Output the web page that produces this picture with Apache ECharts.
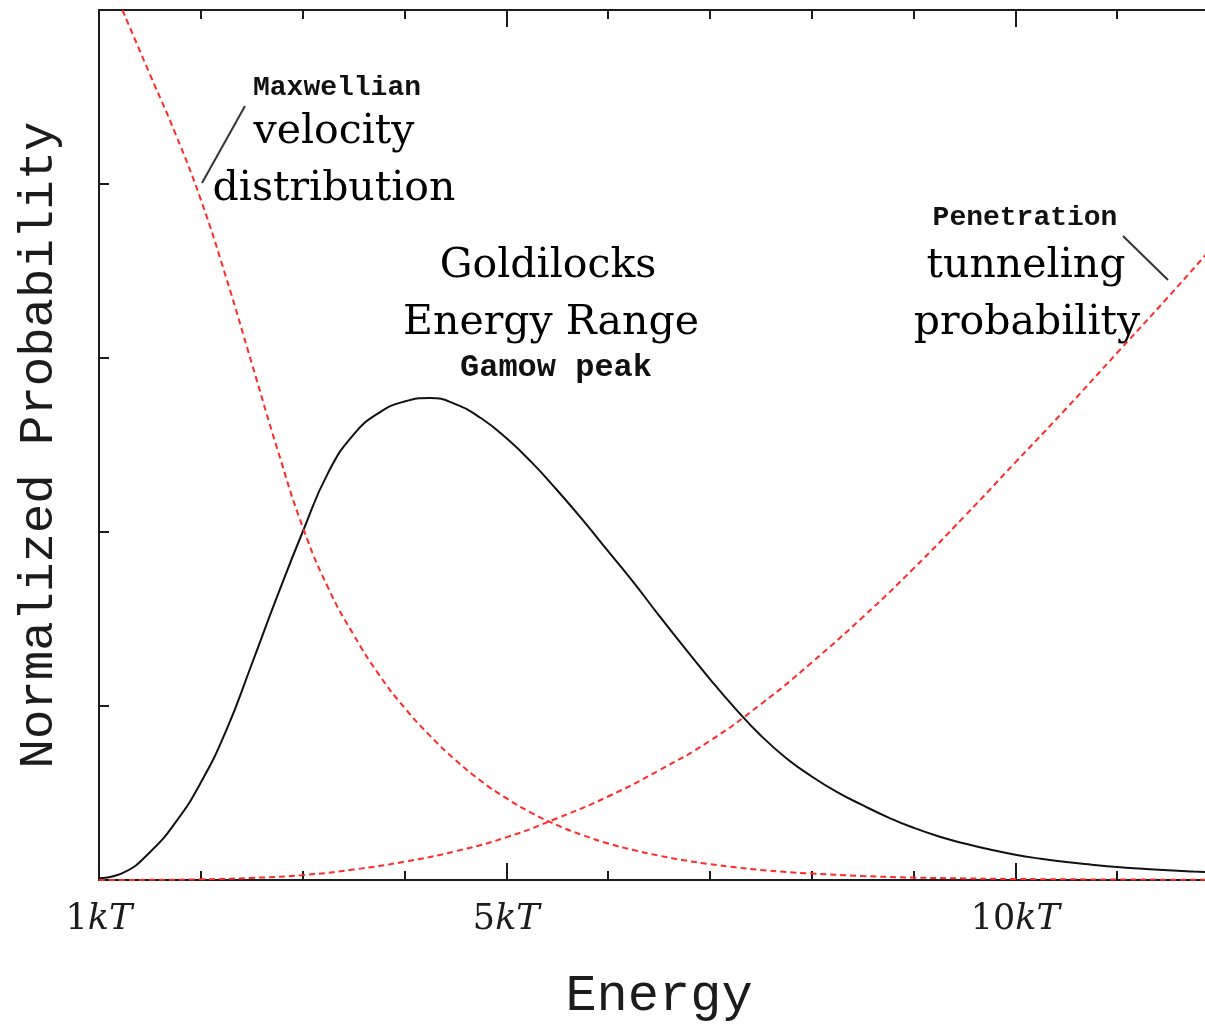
<!DOCTYPE html>
<html>
<head>
<meta charset="utf-8">
<script src="https://cdn.jsdelivr.net/npm/echarts@6/dist/echarts.min.js"></script>
<style>
  html, body { margin: 0; padding: 0; background: #fff; }
  #chart { width: 1205px; height: 1024px; }
</style>
</head>
<body>
<div id="chart"></div>
<script>
// Energy in units of kT, probability in arbitrary normalized units
const maxwellEnergy = [1.23, 1.5, 1.75, 2.0, 2.25, 2.5, 2.75, 3.0, 3.25, 3.5, 3.75, 4.0, 4.25, 4.5, 4.75, 5.0, 5.25, 5.5, 5.75, 6.0, 6.25, 6.5, 6.75, 7.0, 7.25, 7.5, 7.75, 8.0, 8.5, 9.0, 9.5, 10.0, 10.5, 11.0, 11.5, 12.0];
const maxwellValue  = [5.0, 4.63, 4.29, 3.91, 3.46, 2.97, 2.48, 2.03, 1.68, 1.41, 1.18, 0.99, 0.83, 0.69, 0.57, 0.47, 0.385, 0.315, 0.258, 0.21, 0.172, 0.14, 0.113, 0.091, 0.073, 0.058, 0.046, 0.037, 0.023, 0.014, 0.009, 0.006, 0.004, 0.003, 0.002, 0.0015];

const gamowEnergy = [1.0, 1.25, 1.5, 1.75, 2.0, 2.25, 2.5, 2.75, 3.0, 3.25, 3.5, 3.75, 4.0, 4.25, 4.5, 4.75, 5.0, 5.25, 5.5, 5.75, 6.0, 6.25, 6.5, 6.75, 7.0, 7.25, 7.5, 7.75, 8.0, 8.25, 8.5, 8.75, 9.0, 9.25, 9.5, 9.75, 10.0, 10.25, 10.5, 10.75, 11.0, 11.25, 11.5, 11.75, 12.0];
const gamowValue  = [0.01, 0.045, 0.16, 0.33, 0.56, 0.86, 1.24, 1.63, 2.0, 2.34, 2.56, 2.685, 2.75, 2.77, 2.735, 2.655, 2.54, 2.40, 2.24, 2.07, 1.89, 1.71, 1.52, 1.335, 1.155, 0.985, 0.83, 0.70, 0.595, 0.505, 0.43, 0.36, 0.30, 0.25, 0.21, 0.175, 0.145, 0.122, 0.103, 0.088, 0.075, 0.065, 0.056, 0.049, 0.043];

const tunnelEnergy = [1.0, 1.5, 2.0, 2.5, 3.0, 3.5, 4.0, 4.5, 5.0, 5.5, 6.0, 6.5, 7.0, 7.5, 8.0, 8.5, 9.0, 9.5, 10.0, 10.5, 11.0, 11.5, 12.0];
const tunnelValue  = [0.0, 0.001, 0.004, 0.012, 0.028, 0.06, 0.105, 0.165, 0.245, 0.355, 0.48, 0.63, 0.80, 1.01, 1.25, 1.51, 1.79, 2.09, 2.40, 2.71, 3.03, 3.35, 3.68];

const energyTicks = [1, 5, 10];
const majorTicks = [5, 10];

const pairs = (xs, ys) => xs.map((x, i) => [x, ys[i]]);

const axisColor = '#1c1c1c';
const red = '#ff2b2b';
const serif = '"DejaVu Serif", serif';
const mono = '"Liberation Mono", monospace';

const baseX = {
  type: 'value', min: 1, max: 12, interval: 1, gridIndex: 0,
  splitLine: { show: false },
  axisLine: { show: true, onZero: false, lineStyle: { color: axisColor, width: 2 } }
};

const chart = echarts.init(document.getElementById('chart'), null, { renderer: 'canvas' });

chart.setOption({
  backgroundColor: '#fff',
  animation: false,
  grid: { left: 99, top: 10, right: -14, bottom: 144, containLabel: false, outerBoundsMode: 'none' },
  xAxis: [
    Object.assign({}, baseX, {
      position: 'bottom',
      name: 'Energy', nameLocation: 'middle', nameGap: 90,
      nameTextStyle: { fontFamily: mono, fontSize: 52, color: axisColor },
      axisTick: { inside: true, length: 9, lineStyle: { color: axisColor, width: 2 } },
      axisLabel: {
        margin: 22,
        formatter: v => energyTicks.includes(v) ? '{n|' + v + '}{i|kT}' : '',
        rich: {
          n: { fontFamily: serif, fontSize: 35, color: axisColor },
          i: { fontFamily: serif, fontSize: 35, fontStyle: 'italic', color: axisColor }
        }
      }
    }),
    Object.assign({}, baseX, {
      position: 'bottom',
      axisLine: { show: false },
      axisTick: { inside: true, length: 17, customValues: majorTicks, lineStyle: { color: axisColor, width: 2 } },
      axisLabel: { show: false }
    }),
    Object.assign({}, baseX, {
      position: 'top',
      axisTick: { inside: true, length: 9, lineStyle: { color: axisColor, width: 2 } },
      axisLabel: { show: false }
    }),
    Object.assign({}, baseX, {
      position: 'top',
      axisLine: { show: false },
      axisTick: { inside: true, length: 17, customValues: majorTicks, lineStyle: { color: axisColor, width: 2 } },
      axisLabel: { show: false }
    })
  ],
  yAxis: {
    type: 'value', min: 0, max: 5, interval: 1,
    name: 'Normalized Probability', nameLocation: 'middle', nameGap: 35, nameRotate: 90,
    nameTextStyle: { fontFamily: mono, fontSize: 49, color: axisColor },
    splitLine: { show: false },
    axisLine: { show: true, onZero: false, lineStyle: { color: axisColor, width: 2 } },
    axisTick: { inside: true, length: 10, lineStyle: { color: axisColor, width: 2 } },
    axisLabel: { show: false }
  },
  series: [
    {
      name: 'Maxwellian', type: 'line', xAxisIndex: 0, smooth: 0.5, showSymbol: false,
      data: pairs(maxwellEnergy, maxwellValue),
      lineStyle: { color: red, width: 2, type: [6, 4] }, z: 3
    },
    {
      name: 'Penetration', type: 'line', xAxisIndex: 0, smooth: 0.5, showSymbol: false,
      data: pairs(tunnelEnergy, tunnelValue),
      lineStyle: { color: red, width: 2, type: [6, 4] }, z: 3
    },
    {
      name: 'Gamow peak', type: 'line', xAxisIndex: 0, smooth: 0.5, showSymbol: false,
      data: pairs(gamowEnergy, gamowValue),
      lineStyle: { color: '#111', width: 2 }, z: 2
    }
  ],
  graphic: [
    // annotation: Maxwellian velocity distribution
    { type: 'text', x: 253, y: 88, style: { text: 'Maxwellian', font: 'bold 28px ' + mono, fill: '#111', align: 'left', verticalAlign: 'middle' } },
    { type: 'text', x: 334, y: 132, style: { text: 'velocity', font: '41px ' + serif, fill: '#000', align: 'center', verticalAlign: 'middle' } },
    { type: 'text', x: 334, y: 189, style: { text: 'distribution', font: '41px ' + serif, fill: '#000', align: 'center', verticalAlign: 'middle' } },
    { type: 'line', shape: { x1: 245, y1: 106, x2: 202, y2: 183 }, style: { stroke: '#333', lineWidth: 2 } },
    // annotation: Gamow peak
    { type: 'text', x: 548, y: 266, style: { text: 'Goldilocks', font: '41px ' + serif, fill: '#000', align: 'center', verticalAlign: 'middle' } },
    { type: 'text', x: 551, y: 323, style: { text: 'Energy Range', font: '41px ' + serif, fill: '#000', align: 'center', verticalAlign: 'middle' } },
    { type: 'text', x: 556, y: 368, style: { text: 'Gamow peak', font: 'bold 32px ' + mono, fill: '#111', align: 'center', verticalAlign: 'middle' } },
    // annotation: penetration probability
    { type: 'text', x: 1025, y: 218, style: { text: 'Penetration', font: 'bold 28px ' + mono, fill: '#111', align: 'center', verticalAlign: 'middle' } },
    { type: 'text', x: 1026, y: 266, style: { text: 'tunneling', font: '41px ' + serif, fill: '#000', align: 'center', verticalAlign: 'middle' } },
    { type: 'text', x: 1027, y: 323, style: { text: 'probability', font: '41px ' + serif, fill: '#000', align: 'center', verticalAlign: 'middle' } },
    { type: 'line', shape: { x1: 1123, y1: 236, x2: 1168, y2: 280 }, style: { stroke: '#333', lineWidth: 2 } }
  ]
});
</script>
</body>
</html>
